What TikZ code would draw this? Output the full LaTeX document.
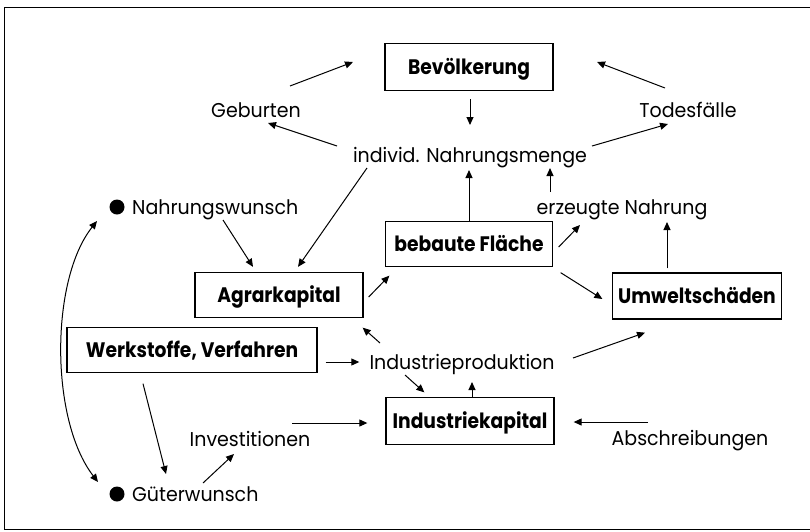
\documentclass[tikz,border=0pt]{standalone}
\usepackage{fontspec}
\setmainfont{Poppins}[FakeStretch=0.95]
\newfontfamily\boxfont{Poppins}[FakeStretch=0.89]
\usetikzlibrary{arrows.meta,calc}
\begin{document}
\begin{tikzpicture}[x=1pt,y=-1pt,
 box/.style={draw,line width=1.3pt,inner sep=0pt,text height=15pt,text depth=0pt,font=\fontsize{21}{24}\boxfont\bfseries},
 lbl/.style={inner sep=0pt,text height=14pt,text depth=0pt,font=\fontsize{20}{22}\selectfont},
 arr/.style={-{Triangle[length=8pt,width=7pt]},line width=1pt},
 dot/.style={circle,fill,inner sep=0pt,minimum size=15pt}]
\useasboundingbox (0,0) rectangle (810,531);
\draw[line width=1pt] (810,7) -- (4,7) -- (4,529) -- (810,529);

\node[box,minimum width=168pt,minimum height=47pt] (bev) at (469,67) {Bevölkerung};
\node[lbl] (geb) at (256,110) {Geburten};
\node[lbl] (tod) at (688,110) {Todesfälle};
\node[lbl] (ind) at (470,155) {individ. Nahrungsmenge};
\node[dot] (nwd) at (117,207) {};
\node[lbl,anchor=west] (nw) at (132,207) {Nahrungswunsch};
\node[lbl] (erz) at (622,207) {erzeugte Nahrung};
\node[box,minimum width=167pt,minimum height=45pt] (beb) at (469,244) {bebaute Fläche};
\node[box,minimum width=168pt,minimum height=45pt] (agr) at (279,295) {Agrarkapital};
\node[box,minimum width=169pt,minimum height=46pt] (umw) at (697,296) {Umweltschäden};
\node[box,minimum width=250pt,minimum height=45pt] (werk) at (192,350) {Werkstoffe, Verfahren};
\node[lbl] (ip) at (462,362) {Industrieproduktion};
\node[box,minimum width=168pt,minimum height=47pt] (ik) at (470,421) {Industriekapital};
\node[lbl] (inv) at (250,439) {Investitionen};
\node[lbl] (abs) at (690,438) {Abschreibungen};
\node[dot] (gwd) at (117,494) {};
\node[lbl,anchor=west] (gw) at (132,494) {Güterwunsch};

\draw[arr] ($(geb)+(34,-24)$) -- ($(bev)+(-116,-5)$);
\draw[arr] ($(tod)+(-23,-22)$) -- ($(bev)+(128,-5)$);
\draw[arr] ($(bev.south)+(1,8)$) -- ($(ind)+(0,-30)$);
\draw[arr] ($(ind)+(-133,-9)$) -- ($(geb)+(12,13)$);
\draw[arr] ($(ind)+(122,-9)$) -- ($(tod)+(-20,14)$);
\draw[arr] ($(nw.west)+(91,13)$) -- ($(agr.north)+(-26,-5)$);
\draw[arr] ($(ind)+(-103,13)$) -- ($(agr.north)+(19,-5)$);
\draw[arr] ($(agr.east)+(5,2)$) -- ($(beb.south west)+(4.5,8.5)$);
\draw[arr] (beb.north) -- ($(ind)+(-1,15)$);
\draw[arr] ($(beb.east)+(5.5,3)$) -- ($(erz)+(-42,18)$);
\draw[arr] ($(erz)+(-72,-15)$) -- ($(ind)+(80,13)$);
\draw[arr] ($(beb.south east)+(7.5,5.5)$) -- ($(umw.west)+(-9.5,3)$);
\draw[arr] ($(umw.north)+(-30,-4)$) -- ($(erz)+(45,15)$);
\draw[arr] ($(werk.east)+(8,12)$) -- ($(ip.west)+(-10,0)$);
\draw[arr] ($(ip)+(-82,-19)$) -- ($(agr.south east)+(-1,9.5)$);
\draw[arr] ($(ip)+(111,-4)$) -- ($(umw.south)+(-52,13)$);
\draw[arr] ($(ip)+(-57,13)$) -- ($(ik.north west)+(39,-4.5)$);
\draw[arr] ($(ik.north)+(2,0)$) -- ($(ip)+(10,20)$);
\draw[arr] ($(inv)+(42,-16)$) -- ($(ik.west)+(-18,2)$);
\draw[arr] ($(abs)+(-42,-16)$) -- ($(ik.east)+(19,1)$);
\draw[arr] ($(gw.west)+(71,-11)$) -- ($(inv)+(-16,15)$);
\draw[arr] ($(werk.south)+(-49,10.5)$) -- ($(gw.west)+(34,-20)$);
\draw[arr,{Triangle[length=8pt,width=7pt]}-{Triangle[length=8pt,width=7pt]}] ($(nwd)+(-20,14)$) .. controls ($(nwd)+(-67,73)$) and ($(gwd)+(-67,-74)$) .. ($(gwd)+(-19,-12)$);
\end{tikzpicture}
\end{document}
